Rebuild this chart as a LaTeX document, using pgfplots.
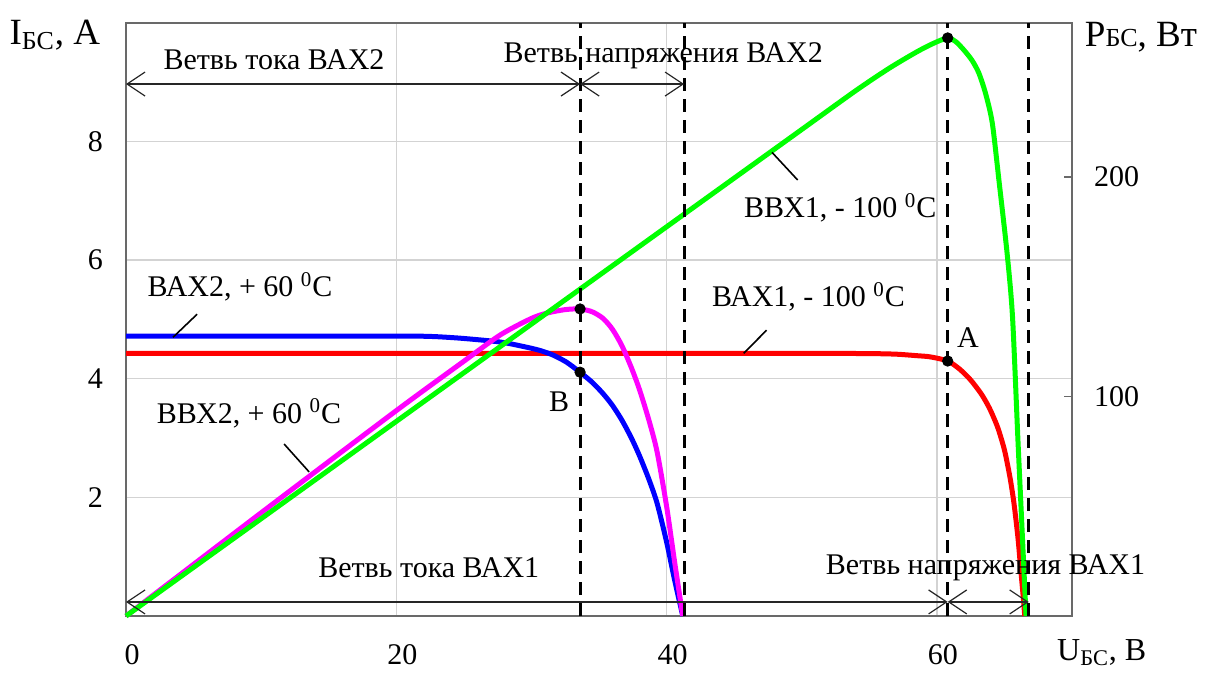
\documentclass[border=0pt]{standalone}
\usepackage{fontspec}
\setmainfont{Liberation Serif}
\usepackage{pgfplots}
\pgfplotsset{compat=1.18}
\usetikzlibrary{arrows.meta}

\definecolor{gridgray}{RGB}{211,211,211}
\definecolor{framegray}{RGB}{105,105,105}
\definecolor{mag}{RGB}{255,0,255}
\definecolor{grn}{RGB}{0,255,0}
\newcommand{\degC}{\textsuperscript{0}C}

\begin{document}
\begin{tikzpicture}[font=\fontsize{15}{18}\selectfont,
  arr/.style={black!85, line width=0.6pt,
    {Straight Barb[length=9pt,width=12pt]}-{Straight Barb[length=9pt,width=12pt]}},
  lead/.style={black, line width=0.8pt}]

% ---------- left axis: current ----------
\begin{axis}[
  scale only axis, width=473pt, height=296.5pt,
  xmin=0, xmax=70, ymin=0, ymax=10,
  xtick={0,20,40,60}, ytick={2,4,6,8},
  grid=major,
  grid style={draw=gridgray, line width=0.7pt},
  axis line style={draw=framegray, line width=0.8pt},
  major tick length=0pt,
  tick label style={font=\fontsize{15}{18}\selectfont},
  xticklabel style={yshift=-10.5pt, xshift=3pt},
  yticklabel style={xshift=-8pt},
  /pgf/number format/assume math mode=true,
  clip=false,
]
% VAX1, -100 C (red)
\addplot[red, line width=2.5pt, smooth, tension=0.45] coordinates {
(0,4.43) (20,4.43) (40,4.43) (50,4.43) (55,4.425) (57,4.415) (58.5,4.39)
(59.5,4.37) (60.8,4.30) (61.7,4.16) (62.5,3.98) (63.3,3.74) (63.9,3.50)
(64.5,3.18) (65.0,2.80) (65.4,2.35) (65.7,1.91) (66.0,1.32) (66.2,0.80)
(66.4,0.30) (66.5,0)};
% VAX2, +60 C (blue)
\addplot[blue, line width=2.5pt, smooth, tension=0.45] coordinates {
(0,4.72) (20,4.72) (21.5,4.72) (23,4.71) (25,4.68) (27.7,4.62) (29.5,4.54)
(30.6,4.48) (31.6,4.40) (32.6,4.28) (33.6,4.11) (34.5,3.94) (35.3,3.75) (36.0,3.55)
(36.7,3.30) (37.4,3.00) (38.0,2.70) (38.7,2.30) (39.3,1.90) (40.0,1.25)
(40.6,0.60) (41.2,0)};
\end{axis}

% ---------- right axis: power ----------
\begin{axis}[
  scale only axis, width=473pt, height=296.5pt,
  xmin=0, xmax=70, ymin=0, ymax=270,
  axis y line*=right, axis x line=none,
  ytick={100,200},
  tick align=inside, major tick length=4pt,
  tick style={draw=framegray, line width=0.8pt},
  axis line style={draw=framegray, line width=0.8pt},
  tick label style={font=\fontsize{15}{18}\selectfont},
  yticklabel style={xshift=7.5pt},
  /pgf/number format/assume math mode=true,
  clip=false,
]
% VVX2, +60 C (magenta)
\addplot[mag, line width=2.5pt, smooth, tension=0.45] coordinates {
(0,0) (10,47) (20,93.5) (25,116) (27.7,128) (30,135.5) (31.2,138) (32.5,139.5)
(33.6,139.8) (34.5,138.5) (35.3,135.5) (36.0,130.5) (36.7,123) (37.4,113)
(38.0,103) (38.7,89) (39.3,74.7) (40.0,50) (40.6,24.4) (41.2,0)};
% VVX1, -100 C (green)
\addplot[grn, line width=2.5pt, smooth, tension=0.45] coordinates {
(0,0) (10,44.3) (20,88.6) (30,132.9) (40,177.2) (50,221.5) (54,239.2)
(56.5,249.5) (58.5,256.8) (59.7,260.6) (60.8,263.2) (61.4,261.5)
(62.0,257.7) (62.6,253) (63.1,247.3) (63.6,238) (64.1,224.5) (64.6,198)
(65.2,165) (65.6,136) (66.0,80) (66.3,40) (66.6,0)};

% branch texts
\node at (axis cs:10.95,253.5) {Ветвь тока ВАХ2};
\node at (axis cs:39.75,254.9) {Ветвь напряжения ВАХ2};
\node at (axis cs:22.4,21.9) {Ветвь тока ВАХ1};
\node at (axis cs:63.6,21.9) {Ветвь напряжения ВАХ1};

% dashed verticals
\addplot[black, line width=1.5pt, dash pattern=on 6.5pt off 4pt] coordinates {(33.6,0) (33.6,270)};
\addplot[black, line width=1.5pt, dash pattern=on 6.5pt off 4pt] coordinates {(41.3,0) (41.3,270)};
\addplot[black, line width=1.5pt, dash pattern=on 6.5pt off 4pt] coordinates {(60.8,0) (60.8,270)};
\addplot[black, line width=1.5pt, dash pattern=on 6.5pt off 4pt] coordinates {(66.8,0) (66.8,270)};

% branch arrows
\draw[arr] (axis cs:0,242.2) -- (axis cs:33.6,242.2);
\draw[arr] (axis cs:33.6,242.2) -- (axis cs:41.3,242.2);
\draw[arr] (axis cs:0,6.4) -- (axis cs:60.8,6.4);
\draw[arr] (axis cs:60.8,6.4) -- (axis cs:66.8,6.4);

% curve labels and leaders
\node at (axis cs:8.44,149.9) {ВАХ2, + 60 \degC};
\draw[lead] (axis cs:5.26,137.4) -- (axis cs:3.48,126.9);
\node at (axis cs:9.1,92.3) {ВВХ2, + 60 \degC};
\draw[lead] (axis cs:11.7,78.3) -- (axis cs:13.55,65.6);
\node at (axis cs:50.5,145.3) {ВАХ1, - 100 \degC};
\draw[lead] (axis cs:47.4,130.1) -- (axis cs:45.7,119.6);
\node at (axis cs:52.85,185.8) {ВВХ1, - 100 \degC};
\draw[lead] (axis cs:47.8,211.1) -- (axis cs:49.7,198.5);
\node at (axis cs:62.3,126.9) {A};
\node at (axis cs:32.05,97.5) {B};

% points
\addplot[only marks, mark=*, mark size=2.6pt, black] coordinates {
(60.8,263.2) (33.6,139.8) (60.8,116.1) (33.6,111.0)};

% axis titles
\node at (axis cs:-5.26,264.6) {\fontsize{18.5}{20}\selectfont I\textsubscript{БС}, A};
\node at (axis cs:75.1,263.3) {\fontsize{18.5}{20}\selectfont P{\fontsize{13}{14}\selectfont БС}, Вт};
\node at (axis cs:72.2,-16.7) {\fontsize{16}{18}\selectfont U\textsubscript{БС}, В};
\end{axis}

\pgfresetboundingbox
\path ([shift={(-63pt,-31.5pt)}]current axis.south west) rectangle ([shift={(69.5pt,11.5pt)}]current axis.north east);
\end{tikzpicture}
\end{document}
